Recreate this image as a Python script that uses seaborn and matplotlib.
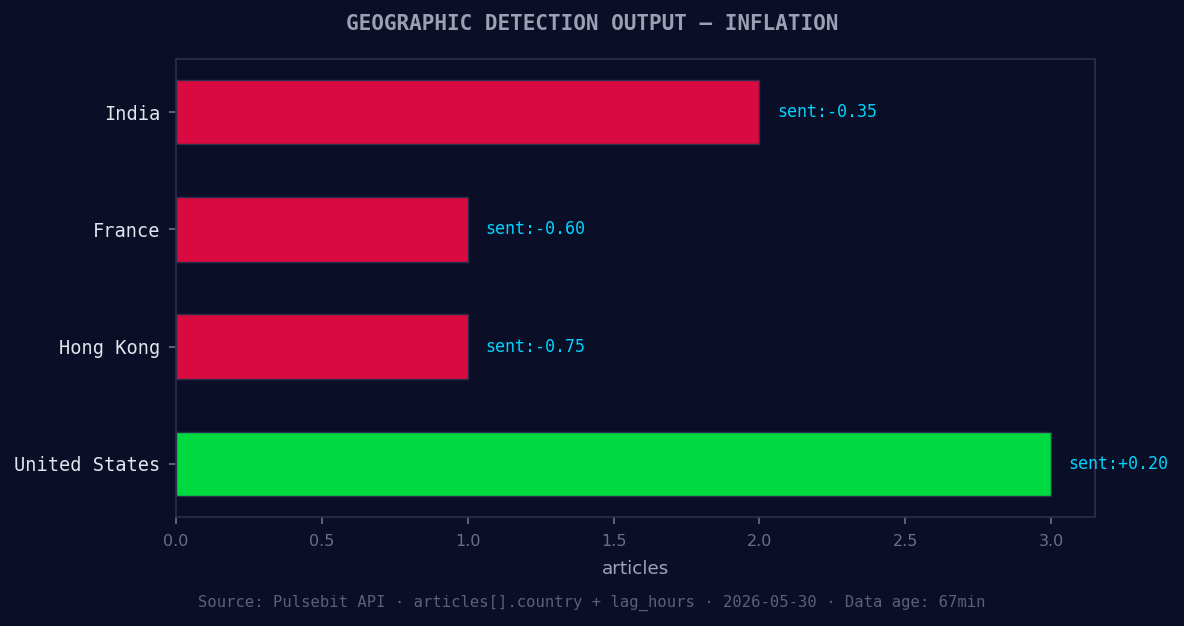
import seaborn as sns
import matplotlib.pyplot as plt
import pandas as pd

# Country detection counts and mean sentiment
countries = ["India", "France", "Hong Kong", "United States"]
articles = [2, 1, 1, 3]
sentiment = [-0.35, -0.60, -0.75, 0.20]

BG = "#0a0e27"
GRID = "#2a2f4d"
MONO = "DejaVu Sans Mono"

df = pd.DataFrame({"country": countries, "articles": articles, "sent": sentiment})
palette = {c: ("#00d93f" if s > 0 else "#d90a3f") for c, s in zip(countries, sentiment)}

sns.set_style("dark")
fig, ax = plt.subplots(figsize=(11.84, 6.26), dpi=100)
fig.patch.set_facecolor(BG)
ax.set_facecolor(BG)

sns.barplot(data=df, x="articles", y="country", hue="country", palette=palette,
            orient="h", width=0.55, edgecolor=GRID, linewidth=1, legend=False,
            saturation=1, ax=ax)

n = len(countries)
ax.set_ylim(n - 1 + 0.4525, -0.4525)
ax.set_xlim(0, max(articles) * 1.05)

for i, (a, s) in enumerate(zip(articles, sentiment)):
    ax.text(a + 0.06, i, f"sent:{s:+.2f}", va="center", ha="left",
            color="#00d4ff", fontsize=12, family=MONO)

for sp in ax.spines.values():
    sp.set_visible(True)
    sp.set_color(GRID)
    sp.set_linewidth(1.2)

ax.grid(False)
ax.tick_params(axis="both", which="major", length=5, width=1.2, color="#6b7089",
               bottom=True, left=True)
ax.tick_params(axis="x", labelcolor="#6b7089", labelsize=11.5, pad=7)
ax.tick_params(axis="y", labelcolor="#e2e4ee", labelsize=13.4, pad=6)
for lbl in ax.get_yticklabels():
    lbl.set_family(MONO)

ax.set_ylabel("")
ax.set_xlabel("articles", color="#a0a4b8", fontsize=13.2, labelpad=8)

fig.suptitle("GEOGRAPHIC DETECTION OUTPUT — INFLATION", color="#9ca0b3",
             fontsize=15.1, fontweight="bold", family=MONO, y=0.9617, va="center")
fig.text(0.5, 0.037,
         "Source: Pulsebit API · articles[].country + lag_hours · 2026-05-30 · Data age: 67min",
         ha="center", va="center", color="#5c6178", fontsize=11.2, family=MONO)

plt.subplots_adjust(left=0.1486, right=0.9248, top=0.9058, bottom=0.1741)
plt.savefig("out.png", dpi=100, facecolor=BG)
